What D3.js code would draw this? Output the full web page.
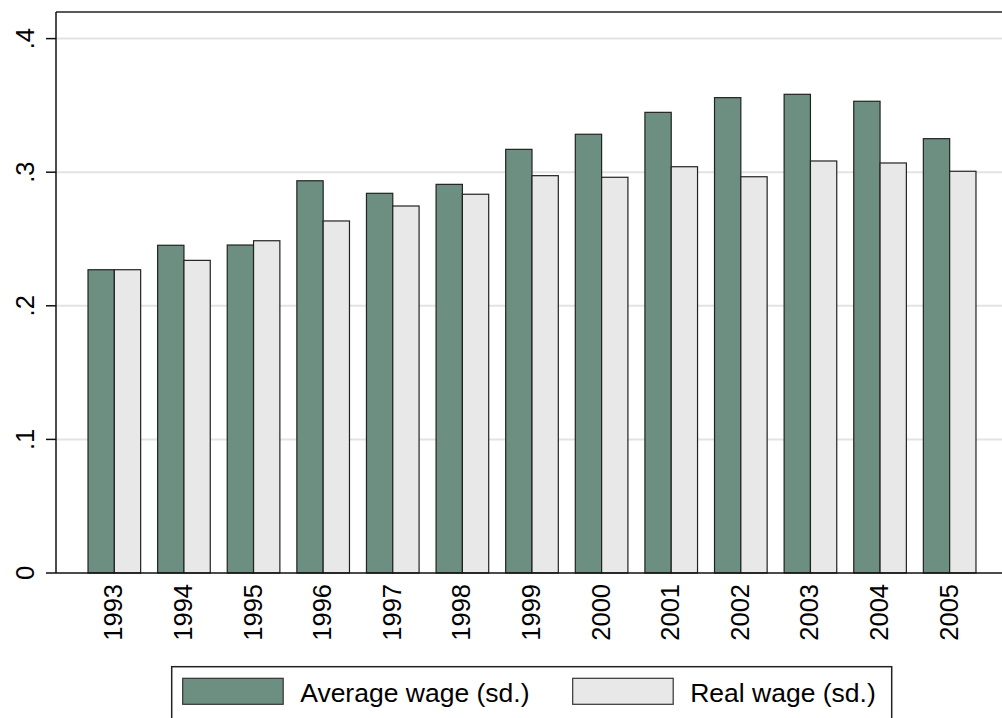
<!DOCTYPE html>
<html><head><meta charset="utf-8">
<script src="https://cdn.jsdelivr.net/npm/d3@7"></script>
<style>html,body{margin:0;padding:0;background:#fff;} svg{display:block;font-family:"Liberation Sans",Arial,sans-serif;}</style>
</head><body>
<svg id="c" width="1002" height="718"></svg>
<script>
const years = ["1993","1994","1995","1996","1997","1998","1999","2000","2001","2002","2003","2004","2005"];
const averageWage = [0.227,0.2453,0.2455,0.2936,0.2842,0.2909,0.3171,0.3284,0.3448,0.3558,0.3583,0.3531,0.3251];
const realWage = [0.227,0.2340,0.2487,0.2635,0.2747,0.2835,0.2974,0.2962,0.3041,0.2966,0.3084,0.3069,0.3007];
const seriesNames = ["Average wage (sd.)","Real wage (sd.)"];
const seriesColors = ["#6d8f81","#e8e8e8"];
const yTicks = [0,0.1,0.2,0.3,0.4];
const yTickLabels = ["0",".1",".2",".3",".4"];

const svg = d3.select("#c");
const pLeft = 56, pRight = 1008, pTop = 12, pBottom = 573;
const y = d3.scaleLinear().domain([0,0.4]).range([573,38.6]);
const x = d3.scaleBand().domain(years).range([pLeft,pRight]).paddingInner(0.244).paddingOuter(0.46);
const xs = d3.scaleBand().domain([0,1]).range([0,x.bandwidth()]);

// gridlines
svg.append("g").selectAll("line").data(yTicks.filter(d=>d>0)).join("line")
  .attr("x1",pLeft).attr("x2",1002).attr("y1",d=>y(d)).attr("y2",d=>y(d))
  .attr("stroke","#e3e3e3").attr("stroke-width",2);

const data = years.map((yr,i)=>({yr, vals:[averageWage[i], realWage[i]]}));
const g = svg.append("g");
data.forEach(d=>{
  d.vals.forEach((v,j)=>{
    g.append("rect")
      .attr("x", x(d.yr)+xs(j)).attr("width", xs.bandwidth())
      .attr("y", y(v)).attr("height", y(0)-y(v))
      .attr("fill", seriesColors[j]).attr("stroke","#222").attr("stroke-width",1.2);
  });
});

// frame
svg.append("line").attr("x1",pLeft).attr("x2",1002).attr("y1",pTop).attr("y2",pTop).attr("stroke","#222").attr("stroke-width",1.5);
svg.append("line").attr("x1",pLeft).attr("x2",pLeft).attr("y1",pTop).attr("y2",pBottom).attr("stroke","#111").attr("stroke-width",1.5);
svg.append("line").attr("x1",pLeft).attr("x2",1002).attr("y1",pBottom).attr("y2",pBottom).attr("stroke","#111").attr("stroke-width",1.5);

// y axis ticks & labels
const ya = svg.append("g");
yTicks.forEach((t,i)=>{
  ya.append("line").attr("x1",46).attr("x2",pLeft).attr("y1",y(t)).attr("y2",y(t)).attr("stroke","#111").attr("stroke-width",1.5);
  ya.append("text").attr("transform",`translate(34,${y(t)}) rotate(-90)`)
    .attr("text-anchor","middle").attr("font-size",25.5).attr("fill","#000").text(yTickLabels[i]);
});

// x labels
const xa = svg.append("g");
years.forEach(yr=>{
  const cx = x(yr)+x.bandwidth()/2;
  xa.append("text").attr("transform",`translate(${cx+8},584) rotate(-90)`)
    .attr("text-anchor","end").attr("font-size",25.5).attr("fill","#000").text(yr);
});

// legend
const lg = svg.append("g");
lg.append("rect").attr("x",171.7).attr("y",666.7).attr("width",720).attr("height",80)
  .attr("fill","#fff").attr("stroke","#222").attr("stroke-width",1.5);
const legX = [182.7, 572.7];
seriesNames.forEach((n,j)=>{
  lg.append("rect").attr("x",legX[j]).attr("y",678.3).attr("width",100.5).attr("height",26)
    .attr("fill",seriesColors[j]).attr("stroke","#333").attr("stroke-width",1.2);
  lg.append("text").attr("x",legX[j]+117.5).attr("y",702).attr("font-size",26.5).attr("fill","#000").text(n);
});
</script>
</body></html>
